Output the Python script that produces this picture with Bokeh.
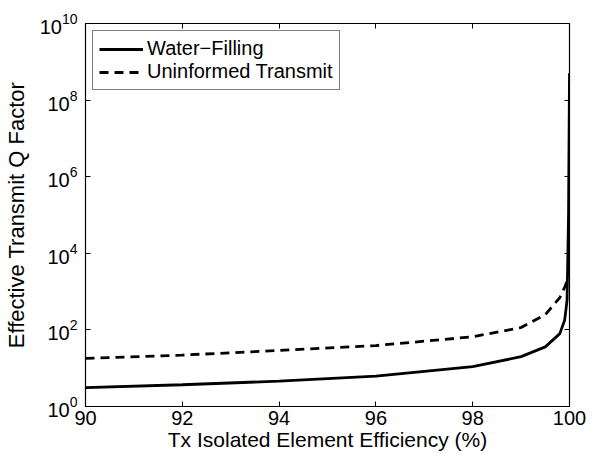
from bokeh.plotting import figure
from bokeh.models import LinearAxis, LogAxis, FixedTicker, Legend, LegendItem
from bokeh.embed import file_html
from bokeh.resources import INLINE

# data
eff_wf = [90, 92, 94, 96, 98, 99, 99.5, 99.8, 99.9, 99.95, 99.98, 100]
q_wf = [3.1, 3.7, 4.6, 6.2, 11, 20, 36, 80, 180, 600, 1e5, 5e8]
eff_un = [90, 92, 94, 96, 98, 99, 99.5, 99.8, 99.9, 99.97, 100]
q_un = [18, 22, 29, 39, 66, 115, 250, 700, 1300, 2200, 3000]
x_ticks = [90, 92, 94, 96, 98, 100]
y_ticks = [1, 1e2, 1e4, 1e6, 1e8, 1e10]

FONT = "Liberation Sans"

p = figure(width=596, height=456, x_range=(90, 100), y_range=(1, 1e10),
           y_axis_type="log", output_backend="svg", toolbar_location=None,
           min_border_left=85, min_border_right=27, min_border_top=23,
           min_border_bottom=50)
p.xgrid.visible = False
p.ygrid.visible = False
p.outline_line_color = "black"
p.outline_line_width = 1.2
p.background_fill_color = "white"
p.border_fill_color = "white"

for ax in p.xaxis:
    ax.ticker = FixedTicker(ticks=x_ticks)
    ax.axis_label = "Tx Isolated Element Efficiency (%)"
    ax.axis_label_text_font_size = "21px"
for ax in p.yaxis:
    ax.ticker = FixedTicker(ticks=y_ticks)
    ax.axis_label = "Effective Transmit Q Factor"
    ax.axis_label_text_font_size = "22px"
for ax in list(p.xaxis) + list(p.yaxis):
    ax.major_tick_in = 5
    ax.major_tick_out = 0
    ax.minor_tick_in = 0
    ax.minor_tick_out = 0
    ax.axis_line_color = "black"
    ax.major_tick_line_color = "black"
    ax.major_label_text_font = FONT
    ax.major_label_text_font_size = "20px"
    ax.major_label_text_color = "black"
    ax.axis_label_text_font = FONT
    ax.axis_label_text_font_style = "normal"
    ax.axis_label_text_color = "black"
p.xaxis.major_label_standoff = 4
p.xaxis.axis_label_standoff = 0
p.yaxis.major_label_standoff = 8
p.yaxis.axis_label_standoff = 8

top = LinearAxis(ticker=FixedTicker(ticks=x_ticks), major_tick_in=5, major_tick_out=0,
                 minor_tick_in=0, minor_tick_out=0, major_label_text_font_size="0px",
                 major_label_standoff=0, axis_line_color=None)
right = LogAxis(ticker=FixedTicker(ticks=y_ticks), major_tick_in=5, major_tick_out=0,
                minor_tick_in=0, minor_tick_out=0, major_label_text_font_size="0px",
                major_label_standoff=0, axis_line_color=None)
top.major_label_overrides = {t: "" for t in x_ticks}
right.major_label_overrides = {t: "" for t in y_ticks}
p.add_layout(top, "above")
p.add_layout(right, "right")

r1 = p.line(eff_wf, q_wf, line_color="black", line_width=2.8)
r2 = p.line(eff_un, q_un, line_color="black", line_width=2.8, line_dash="9 6")

legend = Legend(items=[LegendItem(label="Water\u2212Filling", renderers=[r1]),
                       LegendItem(label="Uninformed Transmit", renderers=[r2])],
                location="top_left")
legend.label_text_font = FONT
legend.label_text_font_size = "20px"
legend.label_text_color = "black"
legend.glyph_width = 44
legend.glyph_height = 22
legend.label_height = 22
legend.label_standoff = 4
legend.spacing = 0
legend.padding = 6
legend.margin = 7
legend.border_line_color = "black"
legend.border_line_width = 1
legend.background_fill_alpha = 1
p.add_layout(legend)

open("out.html", "w").write(file_html(p, INLINE))
